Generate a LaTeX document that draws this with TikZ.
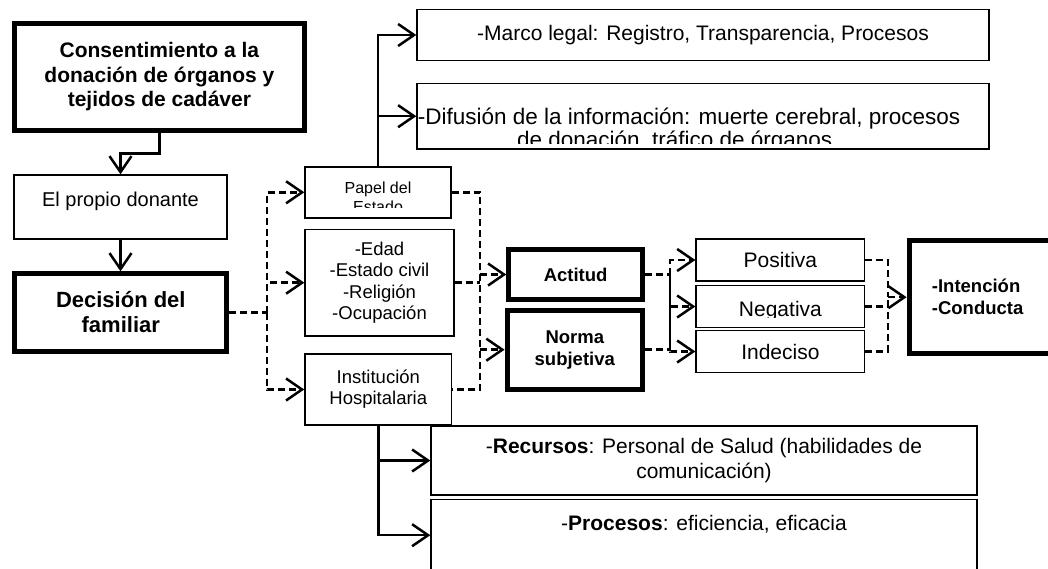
\documentclass[tikz,border=0pt]{standalone}
\usepackage{fontspec}
\setmainfont{Liberation Sans}
\usetikzlibrary{arrows.meta}

\begin{document}
\begin{tikzpicture}[x=1pt, y=-1pt,
		thinbox/.style={draw, line width=1.4pt, inner sep=0pt, align=center},
		thickbox/.style={draw, line width=5pt, inner sep=0pt, align=center},
		solidarrow/.style={line width=2.5pt, -{Straight Barb[length=16pt, width=22pt]}},
		dashline/.style={line width=2.5pt, dash pattern=on 7pt off 4pt},
		dasharrow/.style={dashline, -{Straight Barb[length=16pt, width=22pt]}}]
			%%%%% START %%%%%
			\useasboundingbox (0, 0) rectangle (1048, 568);
			
			% left column
			\node[thickbox, minimum width=290pt, minimum height=106.3pt, font=\bfseries\fontsize{21}{24.5}\selectfont] (consent) at (159.4, 76.9) {Consentimiento a la\\donación de órganos y\\tejidos de cadáver};
			\node[thinbox, minimum width=213pt, minimum height=64pt, text height=15pt, text depth=16pt, font=\fontsize{20}{24}\selectfont] (donante) at (120.5, 207) {El propio donante};
			\node[thickbox, minimum width=212.3pt, minimum height=77.4pt, font=\bfseries\fontsize{22}{25}\selectfont] (decision) at (120.8, 312.5) {Decisión del\\familiar};
			
			% factors
			\node[thinbox, minimum width=146pt, minimum height=51pt] (papel) at (378, 192.3) {};
			\begin{scope}
				\clip (305, 167) rectangle (451, 207.5);
				\node[anchor=north, align=center, inner sep=0pt, font=\fontsize{16}{19}\selectfont] (papeltext) at (378, 181.5) {Papel del\\Estado};
			\end{scope}
			\node[thinbox, minimum width=149pt, minimum height=106.7pt, font=\fontsize{18.5}{21.5}\selectfont] (edad) at (379.5, 282.7) {-Edad\\-Estado civil\\-Religión\\-Ocupación};
			\node[thinbox, minimum width=146.7pt, minimum height=71pt, font=\fontsize{18.5}{21}\selectfont] (inst) at (378.3, 389.5) {Institución\\Hospitalaria};
			
			% state
			\node[thinbox, minimum width=572pt, minimum height=51.4pt, font=\fontsize{21}{25}\selectfont] (marco) at (703, 35) {-Marco legal: Registro, Transparencia, Procesos};
			\node[thinbox, minimum width=572pt, minimum height=65.7pt] (difusion) at (703, 116.2) {};
			\begin{scope}
				\clip (417, 83.3) rectangle (989, 143.5);
				\node[anchor=north, align=center, inner sep=0pt, font=\fontsize{22.5}{21}\selectfont] (difustext) at (689, 108) {-Difusión de la información: muerte cerebral, procesos\\\makebox[344pt][l]{de donación, tráfico de órganos}};
			\end{scope}
			
			% hospital
			\node[thinbox, minimum width=546pt, minimum height=69pt, font=\fontsize{21}{25}\selectfont] (recursos) at (704, 460.5) {-\textbf{Recursos}: Personal de Salud (habilidades de\\comunicación)};
			\node[thinbox, minimum width=546pt, minimum height=71.7pt, text height=15pt, text depth=25pt, font=\fontsize{21}{25}\selectfont] (procesos) at (704, 535.2) {-\textbf{Procesos}: eficiencia, eficacia};
			
			% attitude
			\node[thickbox, minimum width=133.7pt, minimum height=49.4pt, font=\bfseries\fontsize{18.5}{22}\selectfont] (actitud) at (575.6, 274.5) {Actitud};
			\node[thickbox, minimum width=135.5pt, minimum height=79pt, font=\bfseries\fontsize{18.5}{22}\selectfont] (norma) at (574.8, 349.7) {Norma\\subjetiva};
			
			\node[thinbox, minimum width=168.7pt, minimum height=42pt, font=\fontsize{21}{25}\selectfont] (positiva) at (780.4, 260) {Positiva};
			\node[thinbox, minimum width=168.7pt, minimum height=41.6pt] (negativa) at (780.4, 306.5) {};
			\begin{scope}
				\clip (696, 285.7) rectangle (864.7, 317.5);
				\node[anchor=base, inner sep=0pt, font=\fontsize{21}{25}\selectfont] (negtext) at (780.4, 316) {Negativa};
			\end{scope}
			\node[thinbox, minimum width=168.7pt, minimum height=41.6pt, font=\fontsize{21}{25}\selectfont] (indeciso) at (780.4, 351.5) {Indeciso};
			
			\node[thickbox, minimum width=151pt, minimum height=112.7pt, inner xsep=22.8pt, text width=105.4pt, align=left, font=\bfseries\fontsize{18.5}{22}\selectfont] (intencion) at (984.6, 297.2) {-Intención\\-Conducta};
			
			% connectors
			\coordinate (bus1) at (267, 312.5);
			\coordinate (bus2) at (480, 274.5);
			\coordinate (bus3) at (670, 274.5);
			\coordinate (bus4) at (888, 297.2);
			
			\draw[solidarrow] (consent.south) -- ++(0, 21) -| (donante.north);
			\draw[solidarrow] (donante.south) -- (donante.south |- decision.north);
			
			\draw[dashline] (decision.east) -- (bus1);
			\draw[dasharrow] (bus1) |- (papel.west);
			\draw[dasharrow] (bus1) |- (edad.west);
			\draw[dasharrow] (bus1) |- (inst.west);
			
			\draw[solidarrow] (papel.north) |- (marco.west);
			\draw[solidarrow] (papel.north) |- (difusion.west);
			\draw[solidarrow] (inst.south) |- (recursos.west);
			\draw[solidarrow] (inst.south) |- (procesos.west);
			
			\draw[dashline] (papel.east) -| (bus2) |- (inst.east);
			\draw[dashline] (edad.east) -- (edad.east -| bus2);
			\draw[dasharrow] (bus2) -- (actitud.west);
			\draw[dasharrow] (bus2 |- norma.west) -- (norma.west);
			
			\draw[dashline] (actitud.east) -- (bus3);
			\draw[dashline] (norma.east) -| (bus3);
			\draw[dasharrow] (bus3) |- (positiva.west);
			\draw[dasharrow] (bus3) |- (negativa.west);
			\draw[dasharrow] (bus3) |- (indeciso.west);
			
			\draw[dashline] (positiva.east) -| (bus4);
			\draw[dashline] (negativa.east) -| (bus4);
			\draw[dashline] (indeciso.east) -| (bus4);
			\draw[dasharrow] (bus4) -- (intencion.west);
			
			%%%%% END %%%%%
\end{tikzpicture}
\end{document}
